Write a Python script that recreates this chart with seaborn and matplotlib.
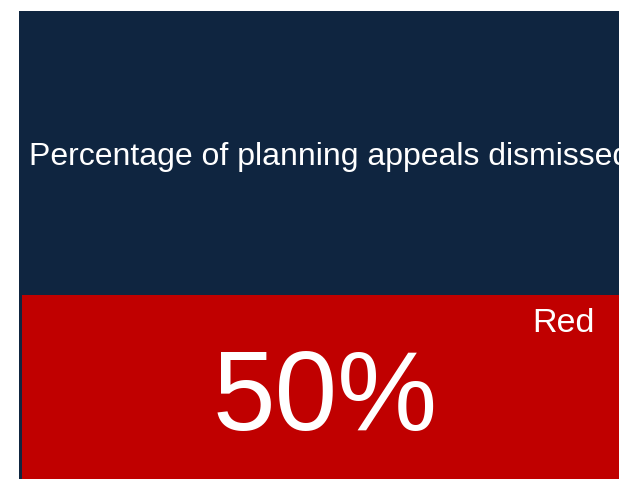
import matplotlib
matplotlib.use("Agg")
import matplotlib.pyplot as plt
import seaborn as sns
import pandas as pd

title = "Percentage of planning appeals dismissed"
value = [50]
value_labels = ["50%"]
status = ["Red"]

sns.set_theme(style="white")
plt.rcParams['font.family'] = ['Liberation Sans', 'DejaVu Sans']

W, H = 619, 479
fig = plt.figure(figsize=(W / 100, H / 100), dpi=100)
ax = fig.add_axes([0, 0, 1, 1])
ax.set_xlim(0, W)
ax.set_ylim(H, 0)
ax.axis("off")

navy = "#0F2540"
red = "#C00000"

# header panel and status panel
ax.add_patch(plt.Rectangle((19, 11), W, H, color=navy, lw=0))
ax.add_patch(plt.Rectangle((22, 295), W, H, color=red, lw=0))

ax.text(29, 165, title, color="white", fontsize=23, ha="left", va="baseline")
ax.text(595, 332, status[0], color="white", fontsize=24.5, ha="right", va="baseline")
ax.text(325, 430, value_labels[0], color="white", fontsize=81, ha="center", va="baseline")

fig.savefig("out.png", dpi=100)
